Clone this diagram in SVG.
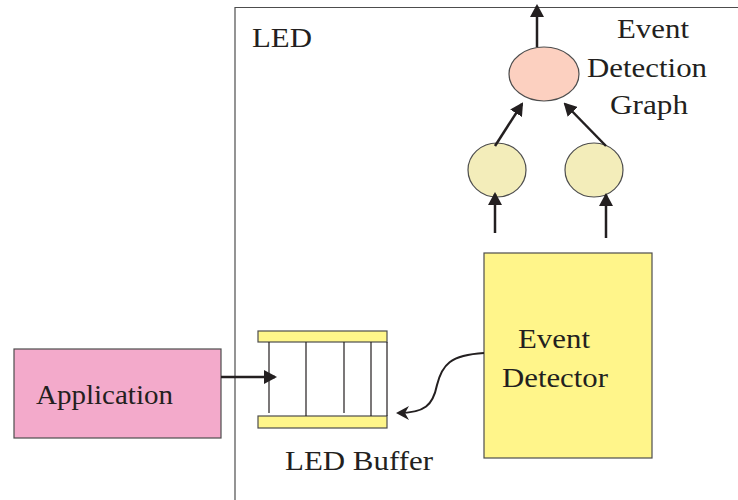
<svg xmlns="http://www.w3.org/2000/svg" width="738" height="500" viewBox="0 0 738 500">
<defs>
<style>
text{font-family:"Liberation Serif","Times New Roman",serif;font-size:28px;fill:#231f20}
.ln{stroke:#231f20;stroke-width:1.2;fill:none}
.ar{stroke:#231f20;stroke-width:2.5;fill:none}
.bd{stroke:#4d4d4d;stroke-width:1.2}
</style>
<marker id="ah" viewBox="0 0 13 14" refX="11" refY="7" markerWidth="13" markerHeight="14" markerUnits="userSpaceOnUse" orient="auto">
<path d="M0,0 L13,7 L0,14 z" fill="#231f20"/>
</marker>
<marker id="ah2" viewBox="0 0 13 14" refX="11" refY="7" markerWidth="13" markerHeight="14" orient="auto" markerUnits="userSpaceOnUse">
<path d="M0,0 L13,7 L0,14 L4,7 z" fill="#231f20"/>
</marker>
</defs>
<rect width="738" height="500" fill="#fff"/>
<g id="led-frame">
<path d="M235,500 L235,7.5 L738,7.5" fill="none" stroke="#4d4d4d" stroke-width="1.2"/>
<text x="252" y="47" textLength="60" lengthAdjust="spacingAndGlyphs">LED</text>
</g>
<g id="graph-label">
<text x="617" y="38" textLength="72" lengthAdjust="spacingAndGlyphs">Event</text>
<text x="587" y="77" textLength="120" lengthAdjust="spacingAndGlyphs">Detection</text>
<text x="610" y="114" textLength="78" lengthAdjust="spacingAndGlyphs">Graph</text>
</g>
<g id="node-root">
<ellipse cx="544" cy="74" rx="35" ry="27" fill="#fcd0c0" class="bd"/>
</g>
<g id="node-left">
<ellipse cx="497" cy="170" rx="29" ry="27" fill="#f3edba" class="bd"/>
</g>
<g id="node-right">
<ellipse cx="594" cy="170" rx="29" ry="27" fill="#f3edba" class="bd"/>
</g>
<g id="application">
<rect x="14" y="349" width="207" height="89" fill="#f3aacb" class="bd"/>
<text x="36" y="404" textLength="137" lengthAdjust="spacingAndGlyphs">Application</text>
</g>
<g id="led-buffer">
<rect x="258" y="331" width="129" height="11" fill="#fff68a" class="bd"/>
<rect x="258" y="416" width="129" height="12" fill="#fff68a" class="bd"/>
<path class="ln" d="M269,342 V413 M306,342 V416 M344,342 V413 M371,342 V416 M387,342 V416"/>
<text x="285" y="470" textLength="148" lengthAdjust="spacingAndGlyphs">LED Buffer</text>
</g>
<g id="event-detector">
<rect x="484" y="253" width="168" height="205" fill="#fff58a" class="bd"/>
<text x="518" y="348" textLength="72" lengthAdjust="spacingAndGlyphs">Event</text>
<text x="502" y="387" textLength="106" lengthAdjust="spacingAndGlyphs">Detector</text>
</g>
<g id="connectors">
<line class="ar" x1="537" y1="47" x2="537" y2="6" marker-end="url(#ah)"/>
<line class="ar" x1="495" y1="146" x2="522" y2="104" marker-end="url(#ah)"/>
<line class="ar" x1="606" y1="146" x2="565" y2="104" marker-end="url(#ah)"/>
<line class="ar" x1="495" y1="233" x2="495" y2="194" marker-end="url(#ah)"/>
<line class="ar" x1="606" y1="238" x2="606" y2="195" marker-end="url(#ah)"/>
<line class="ar" x1="221" y1="377" x2="275" y2="377" marker-end="url(#ah)"/>
<path d="M484,353 C450,355 442,365 437,385 C433,405 425,413 398,413" fill="none" stroke="#231f20" stroke-width="2" marker-end="url(#ah2)"/>
</g>
</svg>
